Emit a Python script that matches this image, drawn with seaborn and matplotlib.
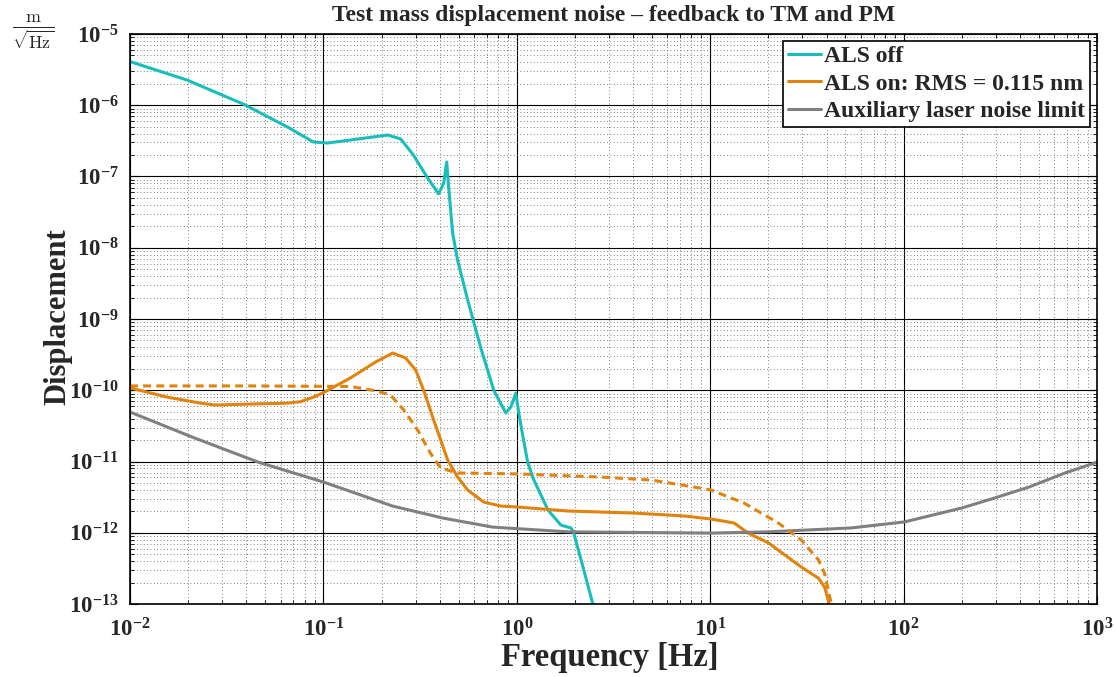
import numpy as np
import pandas as pd
import matplotlib
matplotlib.use("Agg")
import matplotlib.pyplot as plt
from matplotlib.ticker import LogLocator, FuncFormatter, NullFormatter
import seaborn as sns

# datos (frecuencia en Hz, desplazamiento en m/sqrt(Hz))
f_off = [0.01, 0.0197, 0.0385, 0.0651, 0.0887, 0.105, 0.138, 0.215, 0.251, 0.292,
         0.346, 0.394, 0.419, 0.434, 0.444, 0.466, 0.494, 0.557, 0.650, 0.760,
         0.877, 0.931, 0.988, 1.024, 1.06, 1.14, 1.225, 1.45, 1.69, 1.905,
         1.97, 2.22, 2.48]
d_off = [4.1e-6, 2.26e-6, 1.04e-6, 4.96e-7, 3.05e-7, 2.95e-7, 3.25e-7, 3.82e-7, 3.36e-7, 2.0e-7,
         9.5e-8, 5.7e-8, 8.1e-8, 1.6e-7, 7.1e-8, 1.6e-8, 6.7e-9, 1.85e-9, 4.0e-10, 1.0e-10,
         4.8e-11, 5.8e-11, 9.1e-11, 4.8e-11, 2.77e-11, 9.5e-12, 5.5e-12, 2.08e-12, 1.28e-12, 1.17e-12,
         9.9e-13, 3.0e-13, 9.7e-14]

f_on = [0.01, 0.0156, 0.0231, 0.0275, 0.0419, 0.0651, 0.076, 0.0887, 0.0988, 0.138, 0.186,
        0.228, 0.266, 0.300, 0.330, 0.372, 0.439, 0.494, 0.557, 0.674, 0.826,
        1.0, 1.84, 4.04, 7.33, 10.1, 13.3, 15.7, 20.0, 29.6, 36.3,
        39.0, 41.4]
d_on = [1.08e-10, 8.0e-11, 6.6e-11, 6.2e-11, 6.4e-11, 6.6e-11, 6.9e-11, 8.0e-11, 9.1e-11, 1.49e-10, 2.49e-10,
        3.33e-10, 2.84e-10, 1.92e-10, 1.0e-10, 3.8e-11, 1.05e-11, 6.05e-12, 3.98e-12, 2.7e-12, 2.37e-12,
        2.3e-12, 2.02e-12, 1.89e-12, 1.72e-12, 1.56e-12, 1.37e-12, 9.9e-13, 7.2e-13, 3.3e-13, 2.3e-13,
        1.73e-13, 9.7e-14]

f_on_tm = [0.01, 0.0419, 0.138, 0.190, 0.222, 0.260, 0.307, 0.358, 0.404, 0.494,
           1.0, 2.72, 4.94, 8.26, 10.1, 15.0, 22.5, 29.6, 36.3, 39.0,
           42.4]
d_on_tm = [1.15e-10, 1.15e-10, 1.13e-10, 9.75e-11, 8.6e-11, 5.3e-11, 2.77e-11, 1.3e-11, 8.1e-12, 6.9e-12,
           6.7e-12, 6.05e-12, 5.5e-12, 4.38e-12, 3.98e-12, 2.6e-12, 1.37e-12, 7.9e-13, 4.15e-13, 2.7e-13,
           9.7e-14]

f_lim = [0.01, 0.0209, 0.046, 0.1, 0.228, 0.414, 0.751, 1.07, 1.84, 10.1,
         20.0, 53.8, 101, 199, 296, 445, 683, 1000]
d_lim = [4.95e-11, 2.21e-11, 9.8e-12, 5.15e-12, 2.37e-12, 1.61e-12, 1.2e-12, 1.13e-12, 1.03e-12, 9.9e-13,
         1.03e-12, 1.17e-12, 1.42e-12, 2.22e-12, 3.08e-12, 4.38e-12, 6.9e-12, 9.8e-12]

etiquetas = ["ALS off", "ALS on: RMS = 0.115 nm", "Auxiliary laser noise limit"]
colores = ["#17BEBB", "#E1830C", "#808080"]

sns.set_style("ticks")
plt.rcParams["font.family"] = ["Liberation Serif", "DejaVu Serif"]
plt.rcParams["font.weight"] = "bold"
plt.rcParams["mathtext.fontset"] = "custom"
plt.rcParams["mathtext.rm"] = "Liberation Serif:bold"
plt.rcParams["mathtext.bf"] = "Liberation Serif:bold"
plt.rcParams["mathtext.it"] = "Liberation Serif:bold:italic"

fig = plt.figure(figsize=(11.16, 6.77), dpi=100)
ax = fig.add_axes([0.1165, 0.1078, 0.8665, 0.842])

lw = 2.2
sns.lineplot(x=f_off, y=d_off, ax=ax, color=colores[0], lw=lw, label=etiquetas[0], estimator=None, sort=False)
sns.lineplot(x=f_on, y=d_on, ax=ax, color=colores[1], lw=lw, label=etiquetas[1], estimator=None, sort=False)
sns.lineplot(x=f_lim, y=d_lim, ax=ax, color=colores[2], lw=lw, label=etiquetas[2], estimator=None, sort=False)
sns.lineplot(x=f_on_tm, y=d_on_tm, ax=ax, color=colores[1], lw=lw, linestyle=(0, (2.6, 1.7)),
             estimator=None, sort=False, legend=False)

ax.set_xscale("log")
ax.set_yscale("log")
ax.set_xlim(1e-2, 1e3)
ax.set_ylim(1e-13, 1e-5)

def fmt_exp(v, pos):
    e = int(np.round(np.log10(v)))
    return r"$\mathbf{10^{%d}}$" % e

for eje in (ax.xaxis, ax.yaxis):
    eje.set_major_locator(LogLocator(base=10, numticks=20))
    eje.set_minor_locator(LogLocator(base=10, subs=np.arange(2, 10), numticks=200))
    eje.set_major_formatter(FuncFormatter(fmt_exp))
    eje.set_minor_formatter(NullFormatter())

ax.tick_params(which="both", direction="in", top=True, right=True, color="black")
ax.tick_params(which="major", length=6, width=0.8, labelsize=16.5)
ax.tick_params(axis="x", which="major", pad=10)
ax.tick_params(axis="y", which="major", pad=8)
ax.tick_params(which="minor", length=3, width=0.6)
ax.grid(which="major", color="black", lw=0.8, ls="-")
ax.grid(which="minor", color="#555555", lw=0.6, ls=(0, (1, 3)))
ax.set_axisbelow(True)
for s in ax.spines.values():
    s.set_color("black")
    s.set_linewidth(1.2)

ax.set_title("Test mass displacement noise \u2013 feedback to TM and PM",
             fontsize=17, fontweight="bold", pad=9)
ax.set_xlabel("Frequency [Hz]", fontsize=23.5, fontweight="bold")
ax.set_ylabel("Displacement", fontsize=22, fontweight="bold")
ax.xaxis.set_label_coords(0.496, -0.066)
ax.yaxis.set_label_coords(-0.06, 0.505)

fig.text(0.0296, 0.953, r"$\frac{\mathrm{m}}{\sqrt{\mathrm{Hz}}}$", fontsize=18.5,
         ha="center", va="center", math_fontfamily="cm")

leg = ax.legend(loc="upper right", fontsize=17, handlelength=1.4, handletextpad=0.15,
                borderpad=0.2, labelspacing=0.25, borderaxespad=0.3, fancybox=False,
                framealpha=1, edgecolor="black")
leg.get_frame().set_linewidth(1.2)
for t in leg.get_texts():
    t.set_fontweight("bold")

fig.savefig("out.png", dpi=100)
